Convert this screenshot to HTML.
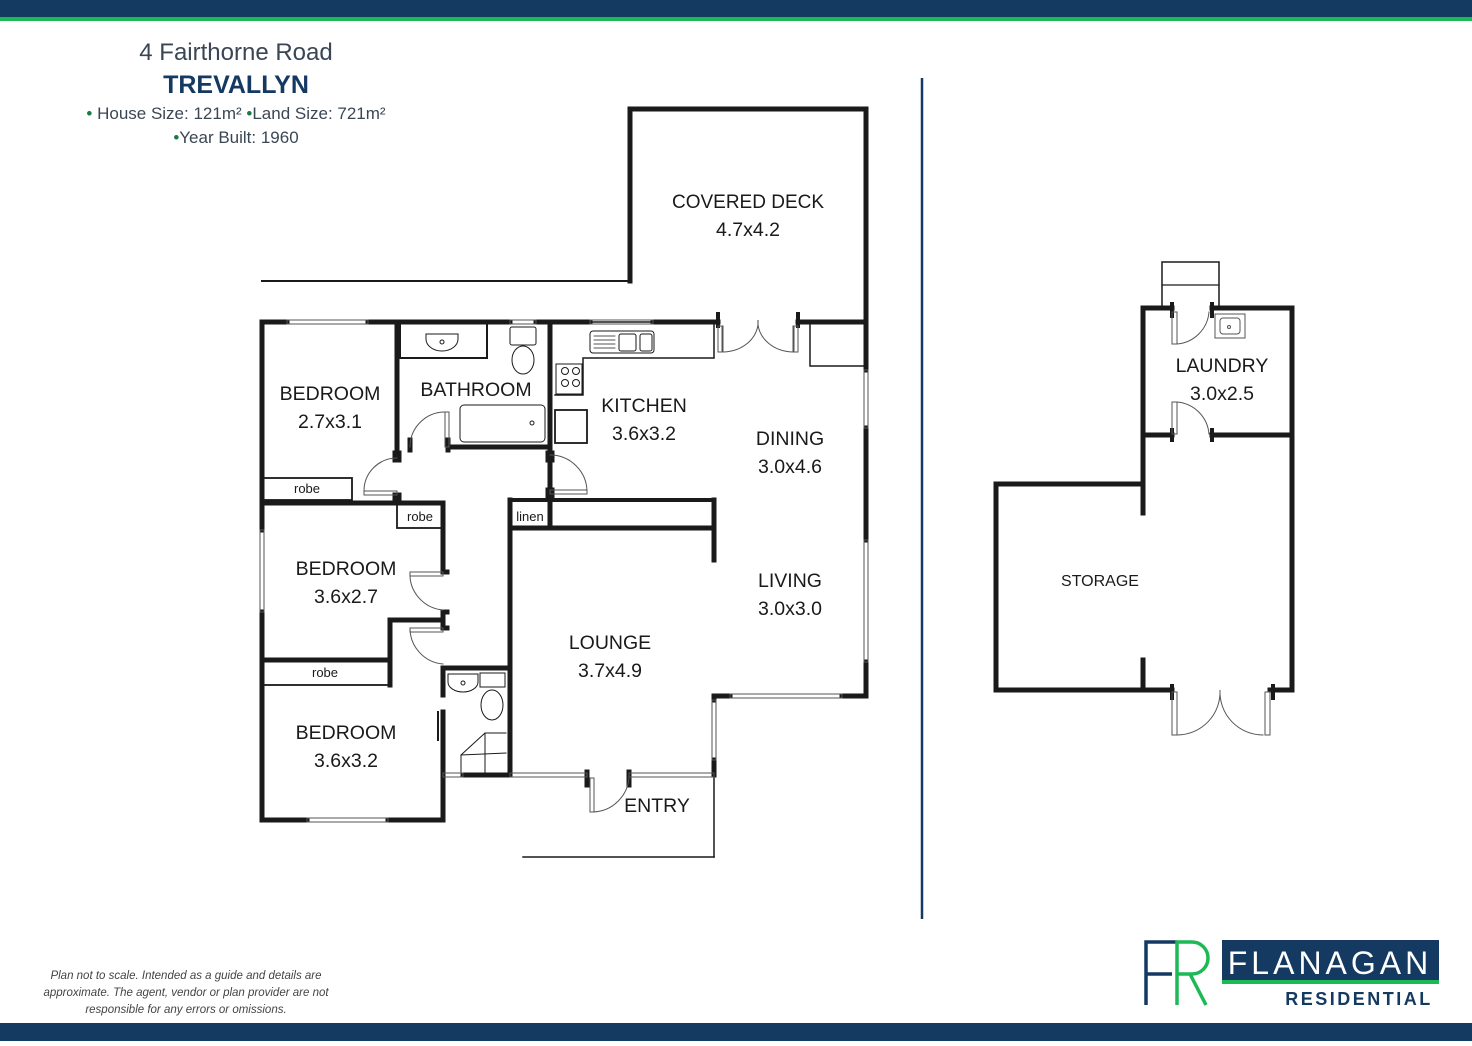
<!DOCTYPE html>
<html><head><meta charset="utf-8"><style>
html,body{margin:0;padding:0;background:#fff;}
body{width:1472px;height:1041px;overflow:hidden;position:relative;font-family:"Liberation Sans",sans-serif;}
svg text{font-family:"Liberation Sans",sans-serif;}
</style></head><body>
<svg width="1472" height="1041" viewBox="0 0 1472 1041" xmlns="http://www.w3.org/2000/svg">
<rect x="0" y="0" width="1472" height="17" fill="#143a62"/>
<rect x="0" y="17" width="1472" height="4" fill="#1db954"/>
<rect x="0" y="1023" width="1472" height="18" fill="#143a62"/>

<!-- header -->
<text x="236" y="60" font-size="24" fill="#3b4654" text-anchor="middle">4 Fairthorne Road</text>
<text x="236" y="93" font-size="25" fill="#143a62" text-anchor="middle" font-weight="bold">TREVALLYN</text>
<text x="236" y="119" font-size="17" fill="#3b4654" text-anchor="middle"><tspan fill="#1a7a45">•</tspan> House Size: 121m² <tspan fill="#1a7a45">•</tspan>Land Size: 721m²</text>
<text x="236" y="143" font-size="17" fill="#3b4654" text-anchor="middle"><tspan fill="#1a7a45">•</tspan>Year Built: 1960</text>

<!-- divider -->
<line x1="922" y1="78" x2="922" y2="919" stroke="#143a62" stroke-width="2.5"/>

<g stroke="#1a1a1a" fill="none" stroke-linecap="square">
<polyline points="630,281 630,109 866,109 866,322" stroke-width="5"/>
<line x1="262" y1="281" x2="630" y2="281" stroke-width="2"/>
<line x1="262" y1="322" x2="287" y2="322" stroke-width="5"/>
<line x1="368" y1="322" x2="510" y2="322" stroke-width="5"/>
<line x1="536" y1="322" x2="590" y2="322" stroke-width="5"/>
<line x1="653" y1="322" x2="718" y2="322" stroke-width="5"/>
<line x1="798" y1="322" x2="866" y2="322" stroke-width="5"/>
<polyline points="262,322 262,530" stroke-width="5"/>
<line x1="262" y1="612" x2="262" y2="820" stroke-width="5"/>
<polyline points="262,820 307,820" stroke-width="5"/>
<polyline points="388,820 443,820 443,712" stroke-width="5"/>
<line x1="866" y1="322" x2="866" y2="370" stroke-width="5"/>
<line x1="866" y1="428" x2="866" y2="540" stroke-width="5"/>
<polyline points="866,662 866,696 842,696" stroke-width="5"/>
<line x1="714" y1="696" x2="730" y2="696" stroke-width="5"/>
<line x1="714" y1="696" x2="714" y2="700" stroke-width="5"/>
<line x1="714" y1="760" x2="714" y2="775" stroke-width="5"/>
<line x1="523" y1="857" x2="714" y2="857" stroke-width="1.5"/>
<line x1="714" y1="775" x2="714" y2="857" stroke-width="1.5"/>
<line x1="463" y1="775" x2="510" y2="775" stroke-width="5"/>
<line x1="397" y1="322" x2="397" y2="455" stroke-width="5"/>
<line x1="550" y1="322" x2="550" y2="455" stroke-width="5"/>
<line x1="450" y1="447" x2="550" y2="447" stroke-width="5"/>
<line x1="262" y1="503" x2="443" y2="503" stroke-width="5"/>
<line x1="443" y1="503" x2="443" y2="572" stroke-width="5"/>
<line x1="443" y1="612" x2="443" y2="628" stroke-width="5"/>
<polyline points="443,620 390,620 390,660 262,660" stroke-width="5"/>
<line x1="390" y1="660" x2="390" y2="685" stroke-width="5"/>
<polyline points="443,695 443,668 510,668" stroke-width="5"/>
<line x1="510" y1="500" x2="510" y2="775" stroke-width="5"/>
<line x1="550" y1="455" x2="550" y2="528" stroke-width="5"/>
<line x1="510" y1="528" x2="714" y2="528" stroke-width="5"/>
<line x1="550" y1="500" x2="714" y2="500" stroke-width="4"/>
<line x1="714" y1="500" x2="714" y2="560" stroke-width="5"/>
<line x1="510" y1="500" x2="550" y2="500" stroke-width="4"/>
<line x1="397" y1="455" x2="397" y2="458" stroke-width="9"/>
<line x1="397" y1="497" x2="397" y2="500" stroke-width="9"/>
<line x1="448" y1="440" x2="448" y2="450" stroke-width="5"/>
<line x1="410" y1="440" x2="410" y2="450" stroke-width="5"/>
<line x1="550" y1="455" x2="550" y2="458" stroke-width="9"/>
<line x1="550" y1="492" x2="550" y2="495" stroke-width="9"/>
<line x1="443" y1="572" x2="447" y2="572" stroke-width="5"/>
<line x1="443" y1="612" x2="447" y2="612" stroke-width="5"/>
<line x1="443" y1="628" x2="447" y2="628" stroke-width="5"/>
<line x1="438" y1="712" x2="438" y2="740" stroke-width="2"/>
<line x1="587" y1="772" x2="587" y2="785" stroke-width="5"/>
<line x1="629" y1="772" x2="629" y2="785" stroke-width="5"/>
<line x1="718" y1="314" x2="718" y2="326" stroke-width="4"/>
<line x1="798" y1="314" x2="798" y2="326" stroke-width="4"/>
<polyline points="810,322 810,366 866,366" stroke-width="1.5"/>
<rect x="262" y="478" width="90" height="22" stroke-width="1.8"/>
<rect x="397" y="503" width="46" height="25" stroke-width="1.8"/>
<rect x="262" y="660" width="128" height="25" stroke-width="1.8"/>
<rect x="510" y="500" width="40" height="28" stroke-width="1.8"/>
<polyline points="555,322 714,322 714,358 583,358 583,395 555,395" stroke-width="1.5"/>
<rect x="555" y="410" width="32" height="33" stroke-width="1.8"/>
<rect x="556" y="364" width="26" height="30" stroke-width="1"/>
<rect x="590" y="331" width="64" height="22" rx="3" stroke-width="1"/>
<rect x="619" y="334" width="17" height="17" rx="2" stroke-width="1"/>
<rect x="640" y="334" width="12" height="17" rx="2" stroke-width="1"/>
<g stroke-width="0.8"><line x1="594" y1="336" x2="615" y2="336"/><line x1="594" y1="340" x2="615" y2="340"/><line x1="594" y1="344" x2="615" y2="344"/><line x1="594" y1="348" x2="615" y2="348"/></g>
<g stroke-width="1"><circle cx="565" cy="371" r="3.5"/><circle cx="576" cy="371" r="3.5"/><circle cx="565" cy="383" r="3.5"/><circle cx="576" cy="383" r="3.5"/></g>
<polyline points="400,325 400,358 487,358 487,325" stroke-width="2"/>
<path d="M426,334 h32 v5 a16,12 0 0 1 -32,0 z" stroke-width="1"/>
<circle cx="442" cy="342" r="2" stroke-width="1"/>
<rect x="510" y="327" width="26" height="18" rx="2" stroke-width="1"/>
<ellipse cx="523" cy="360" rx="11" ry="14" stroke-width="1"/>
<rect x="460" y="405" width="85" height="37" rx="4" stroke-width="1"/>
<circle cx="532" cy="423" r="2" stroke-width="1"/>
<path d="M448,674 h30 v8 a15,10 0 0 1 -30,0 z" stroke-width="1"/>
<circle cx="463" cy="683" r="2" stroke-width="1"/>
<rect x="480" y="673" width="25" height="14" stroke-width="1"/>
<ellipse cx="492" cy="705" rx="11" ry="15" stroke-width="1"/>
<polyline points="461,775 461,755 485,733 506,733" stroke-width="1"/>
<line x1="461" y1="755" x2="506" y2="753" stroke-width="1"/>
<line x1="485" y1="733" x2="485" y2="775" stroke-width="1"/>
<g stroke-width="1" stroke="#555">
<path d="M397,458 A33,33 0 0 0 364,491"/><rect x="364" y="491" width="33" height="4"/>
<path d="M410,447 A35,35 0 0 1 445,412"/><rect x="445" y="412" width="4" height="35"/>
<path d="M550,455 A37,37 0 0 1 587,492"/><rect x="550" y="490" width="37" height="4"/>
<path d="M443,572 L410,572 A36,36 0 0 0 443,610"/><rect x="410" y="572" width="33" height="4"/>
<path d="M443,628 L410,628 A36,36 0 0 0 443,664"/><rect x="410" y="628" width="33" height="4"/>
<path d="M722,326 v26 A36,30 0 0 0 758,320 A36,30 0 0 0 794,352 v-26"/>
<rect x="718" y="326" width="5" height="26"/><rect x="793" y="326" width="5" height="26"/>
<path d="M592,812 A37,37 0 0 0 629,775"/><rect x="590" y="778" width="4" height="34"/>
<rect x="287" y="320" width="81" height="4"/>
<rect x="510" y="320" width="26" height="4"/>
<rect x="590" y="320" width="63" height="4"/>
<rect x="864" y="370" width="4" height="58"/>
<rect x="864" y="540" width="4" height="122"/>
<rect x="730" y="694" width="112" height="4"/>
<rect x="712" y="700" width="4" height="60"/>
<rect x="260" y="530" width="4" height="82"/>
<rect x="307" y="818" width="81" height="4"/>
<rect x="510" y="773" width="77" height="4"/>
<rect x="629" y="773" width="85" height="4"/>
<rect x="443" y="773" width="20" height="4"/>
</g>

<polyline points="1172,308 1143,308 1143,513" stroke-width="5"/>
<polyline points="1212,308 1292,308 1292,690 1270,690" stroke-width="5"/>
<line x1="1143" y1="435" x2="1172" y2="435" stroke-width="5"/>
<line x1="1212" y1="435" x2="1292" y2="435" stroke-width="5"/>
<polyline points="1143,484 996,484 996,690 1172,690" stroke-width="5"/>
<line x1="1143" y1="660" x2="1143" y2="690" stroke-width="5"/>
<g stroke-width="4"><line x1="1172" y1="304" x2="1172" y2="316"/><line x1="1212" y1="304" x2="1212" y2="316"/><line x1="1172" y1="430" x2="1172" y2="440"/><line x1="1212" y1="430" x2="1212" y2="440"/><line x1="1172" y1="686" x2="1172" y2="698"/><line x1="1273" y1="686" x2="1273" y2="698"/></g>
<polyline points="1162,308 1162,262 1219,262 1219,308" stroke-width="1.5"/>
<line x1="1162" y1="285" x2="1219" y2="285" stroke-width="1.2"/>
<g stroke-width="1" stroke="#555">
<rect x="1215" y="314" width="30" height="24"/><rect x="1220" y="318" width="20" height="16" rx="3"/>
<circle cx="1229" cy="327" r="1.5"/>
<path d="M1177,344 A35,35 0 0 0 1209,312"/><rect x="1172" y="312" width="5" height="32"/>
<path d="M1177,402 A35,35 0 0 1 1209,434"/><rect x="1172" y="402" width="5" height="32"/>
<path d="M1177,735 A43,43 0 0 0 1220,690 A43,43 0 0 0 1263,735"/>
<rect x="1172" y="692" width="5" height="43"/><rect x="1265" y="692" width="5" height="43"/>
</g>
</g>

<g font-size="19.5" fill="#1a1a1a" text-anchor="middle">
<text x="748" y="208" font-size="19">COVERED DECK</text><text x="748" y="236">4.7x4.2</text>
<text x="330" y="400">BEDROOM</text><text x="330" y="428">2.7x3.1</text>
<text x="476" y="396">BATHROOM</text>
<text x="644" y="412">KITCHEN</text><text x="644" y="440">3.6x3.2</text>
<text x="790" y="445">DINING</text><text x="790" y="473">3.0x4.6</text>
<text x="346" y="575">BEDROOM</text><text x="346" y="603">3.6x2.7</text>
<text x="790" y="587">LIVING</text><text x="790" y="615">3.0x3.0</text>
<text x="610" y="649">LOUNGE</text><text x="610" y="677">3.7x4.9</text>
<text x="346" y="739">BEDROOM</text><text x="346" y="767">3.6x3.2</text>
<text x="657" y="812">ENTRY</text>
<text x="1222" y="372">LAUNDRY</text><text x="1222" y="400">3.0x2.5</text>
<text x="1100" y="586" font-size="16">STORAGE</text>
</g>
<g font-size="13" fill="#1a1a1a" text-anchor="middle">
<text x="307" y="493">robe</text><text x="420" y="521">robe</text><text x="325" y="677">robe</text><text x="530" y="521">linen</text>
</g>

<g font-size="11.5" fill="#444" font-style="italic" text-anchor="middle">
<text x="186" y="979">Plan not to scale. Intended as a guide and details are</text>
<text x="186" y="996">approximate. The agent, vendor or plan provider are not</text>
<text x="186" y="1013">responsible for any errors or omissions.</text>
</g>

<g fill="none" stroke-width="3.5">
<polyline points="1146,1005 1146,942 1177,942" stroke="#143a62"/>
<line x1="1146" y1="974" x2="1172" y2="974" stroke="#143a62"/>
<path d="M1177,1005 V942 H1192 A16,16 0 0 1 1192,974 H1177" stroke="#1db954"/>
<line x1="1190" y1="974" x2="1206" y2="1005" stroke="#1db954"/>
</g>
<rect x="1222" y="940" width="217" height="40" fill="#143a62"/>
<rect x="1222" y="980" width="217" height="4" fill="#1db954"/>
<text x="1330" y="974" font-size="32" fill="#fff" text-anchor="middle" letter-spacing="4">FLANAGAN</text>
<text x="1359" y="1005" font-size="18" fill="#143a62" text-anchor="middle" letter-spacing="2.5" font-weight="600">RESIDENTIAL</text>
</svg>
</body></html>
